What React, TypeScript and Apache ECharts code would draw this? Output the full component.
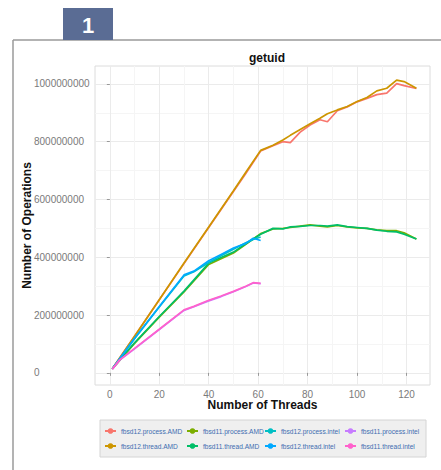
import React, { useEffect, useRef } from "react";
import * as echarts from "echarts";

// Thread counts (x values)
const threadsAMD = [1, 10, 20, 30, 40, 50, 55, 61, 66, 70, 73, 77, 81, 85, 88, 92, 96, 100, 104, 108, 112, 116, 119, 124];
const threadsIntel = [1, 4, 10, 20, 30, 34, 40, 45, 50, 55, 58, 61];

// Number of operations, in millions
const fbsd12ProcessAMD = [14, 127, 253, 378, 503, 628, 690, 768, 786, 800, 797, 833, 858, 876, 869, 907, 920, 938, 950, 963, 968, 1001, 994, 984];
const fbsd12ThreadAMD = [14, 127, 253, 380, 505, 630, 694, 770, 788, 806, 822, 842, 862, 881, 897, 910, 922, 939, 953, 976, 985, 1013, 1008, 985];
const fbsd11ProcessAMD = [14, 102, 193, 280, 375, 415, 445, 482, 498, 500, 503, 508, 512, 508, 505, 510, 505, 502, 500, 495, 492, 492, 485, 463];
const fbsd11ThreadAMD = [14, 104, 195, 283, 380, 418, 447, 480, 500, 498, 505, 507, 510, 510, 508, 512, 506, 503, 500, 494, 490, 488, 480, 463];
const fbsd12ProcessIntel = [14, 48, 118, 228, 335, 350, 382, 405, 428, 450, 462, 470];
const fbsd12ThreadIntel = [14, 50, 120, 230, 339, 352, 388, 410, 432, 448, 466, 458];
const fbsd11ProcessIntel = [13, 44, 83, 150, 216, 229, 249, 264, 281, 299, 311, 309];
const fbsd11ThreadIntel = [13, 45, 85, 151, 218, 230, 251, 266, 282, 300, 312, 310];

const seriesNames = [
  "fbsd12.process.AMD",
  "fbsd12.thread.AMD",
  "fbsd11.process.AMD",
  "fbsd11.thread.AMD",
  "fbsd12.process.intel",
  "fbsd12.thread.intel",
  "fbsd11.process.intel",
  "fbsd11.thread.intel",
];
const seriesValues = [
  fbsd12ProcessAMD,
  fbsd12ThreadAMD,
  fbsd11ProcessAMD,
  fbsd11ThreadAMD,
  fbsd12ProcessIntel,
  fbsd12ThreadIntel,
  fbsd11ProcessIntel,
  fbsd11ThreadIntel,
];
const seriesThreads = [threadsAMD, threadsAMD, threadsAMD, threadsAMD, threadsIntel, threadsIntel, threadsIntel, threadsIntel];
const seriesColors = ["#F8766D", "#CD9600", "#7CAE00", "#00BE67", "#00BFC4", "#00A9FF", "#C77CFF", "#FF61CC"];

const xMajorTicks = [0, 20, 40, 60, 80, 100, 120];
const xMinorTicks = [10, 30, 50, 70, 90, 110];
const yMajorTicks = [0, 200000000, 400000000, 600000000, 800000000, 1000000000];
const yMinorTicks = [100000000, 300000000, 500000000, 700000000, 900000000];

const FONT = "Liberation Sans";

export default function App() {
  const ref = useRef<HTMLDivElement>(null);
  useEffect(() => {
    if (!ref.current) return;
    const chart = echarts.init(ref.current, undefined, { renderer: "svg" });
    const xRange = { min: -6, max: 129.5 };
    const yRange = { min: -42000000, max: 1062000000 };
    const legendCols = [104, 186, 264, 344];
    const legends = legendCols.map((left, i) => ({
      orient: "vertical",
      left,
      top: 427,
      padding: 0,
      itemWidth: 11,
      itemHeight: 7,
      itemGap: 7,
      data: [seriesNames[i * 2], seriesNames[i * 2 + 1]],
      textStyle: { fontSize: 6.6, color: "#3d6db0", fontFamily: FONT, lineHeight: 8 },
    }));
    chart.setOption({
      animation: false,
      backgroundColor: "#ffffff",
      title: {
        text: "getuid",
        left: 262,
        top: 47,
        textAlign: "center",
        textStyle: { fontSize: 12, fontWeight: "bold", color: "#111", fontFamily: FONT },
      },
      legend: legends,
      grid: {
        left: 95,
        right: 11,
        top: 66,
        bottom: 85,
        show: true,
        borderColor: "#dcdcdc",
        borderWidth: 1,
        backgroundColor: "transparent",
      },
      xAxis: [
        {
          type: "value",
          ...xRange,
          name: "Number of Threads",
          nameLocation: "middle",
          nameGap: 14,
          nameMoveOverlap: false,
          nameTextStyle: { fontSize: 12, fontWeight: "bold", color: "#111", fontFamily: FONT },
          axisLine: { show: false },
          axisTick: { show: true, length: 3, customValues: xMajorTicks, lineStyle: { color: "#999" } },
          axisLabel: { customValues: xMajorTicks, fontSize: 10, color: "#7a7a7a", margin: 4, fontFamily: FONT },
          splitLine: { show: true, lineStyle: { color: "#ebebeb", width: 1 } },
        },
        {
          type: "value",
          ...xRange,
          position: "bottom",
          axisLine: { show: false },
          axisTick: { show: false, customValues: xMinorTicks },
          axisLabel: { show: false, customValues: xMinorTicks },
          splitLine: { show: true, lineStyle: { color: "#f5f5f5", width: 1 } },
        },
      ],
      yAxis: [
        {
          type: "value",
          ...yRange,
          name: "Number of Operations",
          nameLocation: "middle",
          nameGap: 62,
          nameMoveOverlap: false,
          nameRotate: 90,
          nameTextStyle: { fontSize: 12, fontWeight: "bold", color: "#111", fontFamily: FONT },
          axisLine: { show: false },
          axisTick: { show: true, length: 3, customValues: yMajorTicks, lineStyle: { color: "#999" } },
          axisLabel: {
            customValues: yMajorTicks,
            fontSize: 10,
            color: "#7a7a7a",
            margin: 61,
            align: "left",
            fontFamily: FONT,
            formatter: (v: number) => String(v),
          },
          splitLine: { show: true, lineStyle: { color: "#ebebeb", width: 1 } },
        },
        {
          type: "value",
          ...yRange,
          position: "left",
          axisLine: { show: false },
          axisTick: { show: false, customValues: yMinorTicks },
          axisLabel: { show: false, customValues: yMinorTicks },
          splitLine: { show: true, lineStyle: { color: "#f5f5f5", width: 1 } },
        },
      ],
      series: seriesNames.map((name, i) => ({
        name,
        type: "line",
        xAxisIndex: 0,
        yAxisIndex: 0,
        showSymbol: false,
        symbol: "circle",
        symbolSize: 5,
        color: seriesColors[i],
        lineStyle: { width: 1.7, color: seriesColors[i] },
        data: seriesThreads[i].map((t, j) => [t, seriesValues[i][j] * 1000000]),
      })),
      graphic: [
        {
          type: "line",
          shape: { x1: 13, y1: 40, x2: 441, y2: 40 },
          style: { stroke: "#9a9a9a", lineWidth: 1.5 },
        },
        {
          type: "line",
          shape: { x1: 13, y1: 40, x2: 13, y2: 470 },
          style: { stroke: "#9a9a9a", lineWidth: 1.5 },
        },
        {
          type: "rect",
          shape: { x: 63, y: 8, width: 50, height: 32 },
          style: { fill: "#5a6c94" },
        },
        {
          type: "text",
          x: 88,
          y: 25,
          style: {
            text: "1",
            fill: "#ffffff",
            font: "bold 22px Liberation Sans",
            textAlign: "center",
            textVerticalAlign: "middle",
          },
        },
        {
          type: "rect",
          z: -1,
          shape: { x: 100, y: 420, width: 326, height: 37 },
          style: { fill: "#efefef", stroke: "#d4d4d4", lineWidth: 1 },
        },
      ],
    });
    return () => chart.dispose();
  }, []);
  return <div ref={ref} style={{ position: "fixed", left: 0, top: 0, width: 441, height: 470 }} />;
}
